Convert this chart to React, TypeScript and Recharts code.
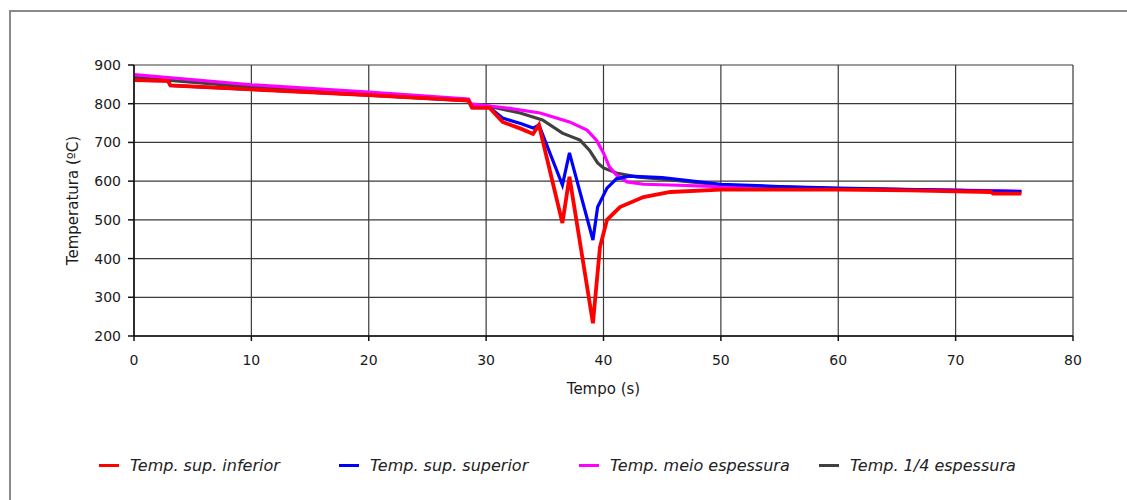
import { LineChart, Line, XAxis, YAxis, CartesianGrid, Label } from "recharts";

// Time (s) and temperature (°C)
const infT = [0, 2.9, 3.1, 10, 20, 28.5, 28.8, 30.3, 31.4, 33, 34, 34.5, 36.5, 37.1, 39.1, 39.7, 40.3, 41.4, 43.4, 45.7, 50, 60, 66, 73, 73.2, 75.6];
const infV = [861, 859, 847, 837, 822, 808, 790, 789, 753, 735, 722, 745, 492, 611, 233, 430, 500, 533, 559, 572, 578, 578, 576, 572, 568, 568];

const supT = [0, 2.9, 3.1, 10, 20, 28.5, 28.8, 30.3, 31.4, 33, 34, 34.5, 36.5, 37.1, 39.1, 39.5, 40.3, 41.1, 42.2, 45, 50, 55, 60, 70, 75.6];
const supV = [861, 859, 847, 837, 822, 808, 790, 790, 763, 748, 737, 745, 590, 673, 448, 533, 582, 606, 613, 609, 592, 586, 582, 576, 573];

const meioT = [0, 10, 20, 28.5, 28.7, 30.3, 32, 34.6, 37.1, 38.6, 39.4, 40, 40.5, 41.1, 42, 43.4, 45.7, 50, 60, 70, 75.6];
const meioV = [875, 849, 830, 812, 800, 794, 788, 776, 753, 732, 706, 673, 637, 616, 598, 592, 590, 586, 580, 577, 574];

const quartoT = [0, 10, 20, 28.5, 28.7, 30.3, 32.9, 34.8, 36.5, 38, 38.8, 39.5, 40, 41.1, 42.8, 45.7, 50, 60, 70, 75.6];
const quartoV = [868, 843, 826, 810, 798, 793, 776, 758, 724, 706, 680, 647, 634, 621, 611, 603, 590, 581, 576, 573];

const xTicks = [0, 10, 20, 30, 40, 50, 60, 70, 80];
const yTicks = [200, 300, 400, 500, 600, 700, 800, 900];

const toRows = (t: number[], v: number[]) => t.map((x, i) => ({ t: x, v: v[i] }));

// drawing order: gray, magenta, blue, red (red on top)
const series = [
  { key: "quarto", name: "Temp. 1/4 espessura", color: "#404040", data: toRows(quartoT, quartoV) },
  { key: "meio", name: "Temp. meio espessura", color: "#ff00ff", data: toRows(meioT, meioV) },
  { key: "sup", name: "Temp. sup. superior", color: "#0000ff", data: toRows(supT, supV) },
  { key: "inf", name: "Temp. sup. inferior", color: "#ff0000", data: toRows(infT, infV) },
];
const legendOrder = ["inf", "sup", "meio", "quarto"];

const font = "'DejaVu Sans', sans-serif";

export default function App() {
  return (
    <div style={{ position: "absolute", left: 0, top: 0, width: 1127, height: 500, background: "#fff", overflow: "hidden", fontFamily: font }}>
      <div
        style={{
          position: "absolute",
          left: 9,
          top: 10,
          width: 1200,
          height: 600,
          borderLeft: "2px solid #8a8a8a",
          borderTop: "2px solid #8a8a8a",
        }}
      />
      <div style={{ position: "absolute", left: 0, top: 0 }}>
        <LineChart width={1127} height={500} margin={{ top: 65, right: 54, left: 64, bottom: 104 }}>
          <CartesianGrid stroke="#3a3a3a" strokeWidth={1.2} />
          <XAxis
            type="number"
            dataKey="t"
            domain={[0, 80]}
            ticks={xTicks}
            allowDuplicatedCategory={false}
            height={60}
            tickSize={5}
            tickMargin={14}
            tick={{ fontSize: 14, fill: "#1a1a1a", fontFamily: font }}
            axisLine={{ stroke: "#111", strokeWidth: 1.5 }}
            tickLine={{ stroke: "#111", strokeWidth: 1.5 }}
          >
            <Label value="Tempo (s)" position="insideBottom" offset={2} style={{ fontSize: 15, fill: "#1a1a1a", fontFamily: font }} />
          </XAxis>
          <YAxis
            type="number"
            domain={[200, 900]}
            ticks={yTicks}
            width={70}
            tickSize={6}
            tickMargin={7}
            tick={{ fontSize: 14, fill: "#1a1a1a", fontFamily: font }}
            axisLine={{ stroke: "#111", strokeWidth: 1.5 }}
            tickLine={{ stroke: "#111", strokeWidth: 1.5 }}
          >
            <Label
              value="Temperatura (ºC)"
              position="insideLeft"
              offset={9}
              angle={-90}
              textAnchor="middle"
              style={{ fontSize: 15, fill: "#1a1a1a", fontFamily: font, textAnchor: "middle" }}
            />
          </YAxis>
          {series.map((s) => (
            <Line
              key={s.key}
              data={s.data}
              dataKey="v"
              name={s.name}
              type="linear"
              stroke={s.color}
              strokeWidth={s.key === "inf" ? 3.8 : 3.2}
              dot={false}
              activeDot={false}
              isAnimationActive={false}
            />
          ))}
        </LineChart>
      </div>
      <div style={{ position: "absolute", left: 99, top: 455, display: "flex" }}>
        {legendOrder.map((k) => {
          const s = series.find((x) => x.key === k)!;
          return (
            <div key={k} style={{ width: 240, display: "flex", alignItems: "center", height: 20 }}>
              <span style={{ display: "inline-block", width: 20, height: 3, background: s.color, marginRight: 11 }} />
              <span style={{ fontSize: 16, fontStyle: "italic", color: "#222", whiteSpace: "nowrap" }}>{s.name}</span>
            </div>
          );
        })}
      </div>
    </div>
  );
}
